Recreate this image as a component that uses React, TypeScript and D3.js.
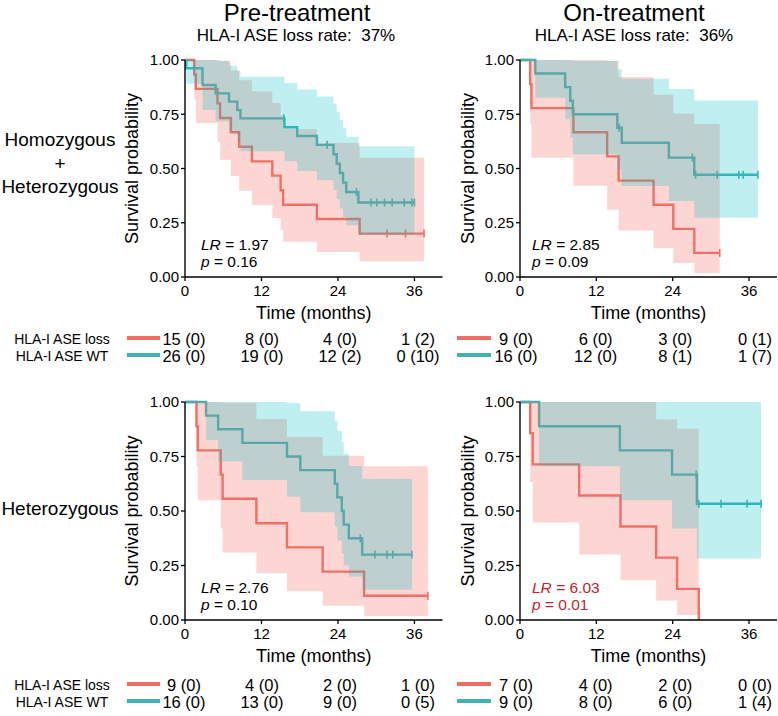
import React from 'react';
import * as d3 from 'd3';

const FONT = '"Liberation Sans", Arial, Helvetica, sans-serif';
const RED_LINE = '#EE6E62';
const TEAL_LINE = '#3FB2B7';
const RED_FILL = '#F8766D';
const TEAL_FILL = '#00BFC4';
const STAT_RED = '#C41E2A';

// ---------- shared ticks ----------
const xTicks = [0, 12, 24, 36];
const yTicks = [0, 0.25, 0.5, 0.75, 1];
const riskTimes = [0, 12, 24, 36];

// ---------- titles / labels ----------
const columnTitles = ['Pre-treatment', 'On-treatment'];
const columnSubtitles = ['HLA-I ASE loss rate:  37%', 'HLA-I ASE loss rate:  36%'];
const rowLabels = [['Homozygous', '+', 'Heterozygous'], ['Heterozygous']];
const groupLabels = ['HLA-I ASE loss', 'HLA-I ASE WT'];

// ---------- Panel A: Pre-treatment, Homozygous + Heterozygous ----------
const aLossT = [0, 1.45, 1.7, 5.1, 5.5, 7.2, 8.5, 10.5, 13.7, 15.0, 15.4, 20.7, 27.4];
const aLossS = [1, 0.933, 0.867, 0.8, 0.733, 0.667, 0.6, 0.533, 0.467, 0.4, 0.333, 0.267, 0.2];
const aLossLo = [1, 0.815, 0.71, 0.621, 0.54, 0.466, 0.397, 0.332, 0.272, 0.215, 0.163, 0.115, 0.073];
const aLossHi = [1, 1, 1, 1, 0.995, 0.953, 0.907, 0.856, 0.802, 0.744, 0.682, 0.617, 0.55];
const aLossCens = [31.7, 34.6, 37.5];
const aWtT = [0, 0.2, 2.75, 4.8, 6.9, 8.2, 8.7, 15.6, 17.6, 20.7, 23.3, 23.8, 24.3, 24.8, 25.3, 27.2];
const aWtS = [1, 0.962, 0.885, 0.846, 0.808, 0.769, 0.731, 0.69, 0.65, 0.609, 0.566, 0.522, 0.479, 0.435, 0.392, 0.343];
const aWtLo = [1, 0.891, 0.77, 0.718, 0.67, 0.623, 0.579, 0.533, 0.489, 0.446, 0.401, 0.358, 0.316, 0.276, 0.238, 0.195];
const aWtHi = [1, 1, 1, 0.997, 0.974, 0.949, 0.923, 0.894, 0.864, 0.832, 0.798, 0.762, 0.725, 0.686, 0.646, 0.603];
const aWtCens = [15.5, 22.3, 26.9, 29.2, 30.1, 31.3, 32.5, 34.4, 35.6, 36.0];
const aLossRisk = [15, 8, 4, 1];
const aLossRiskCens = [0, 0, 0, 2];
const aWtRisk = [26, 19, 12, 0];
const aWtRiskCens = [0, 0, 2, 10];
const aStats = ['1.97', '0.16'];

// ---------- Panel B: On-treatment, Homozygous + Heterozygous ----------
const bLossT = [0, 1.6, 1.8, 8.4, 13.7, 15.5, 21.0, 24.1, 27.4];
const bLossS = [1, 0.889, 0.778, 0.667, 0.556, 0.444, 0.333, 0.222, 0.111];
const bLossLo = [1, 0.705, 0.549, 0.42, 0.31, 0.214, 0.132, 0.065, 0.018];
const bLossHi = [1, 1, 1, 1, 0.997, 0.922, 0.84, 0.754, 0.705];
const bLossCens = [31.4];
const bWtT = [0, 2.4, 7.1, 7.9, 8.3, 15.3, 16.0, 23.4, 27.4];
const bWtS = [1, 0.9375, 0.875, 0.8125, 0.75, 0.6875, 0.619, 0.55, 0.471];
const bWtLo = [1, 0.826, 0.727, 0.642, 0.565, 0.494, 0.419, 0.35, 0.273];
const bWtHi = [1, 1, 1, 1, 0.995, 0.957, 0.914, 0.866, 0.813];
const bWtCens = [15.6, 27.1, 27.6, 31.0, 34.4, 35.1, 37.4];
const bLossRisk = [9, 6, 3, 0];
const bLossRiskCens = [0, 0, 0, 1];
const bWtRisk = [16, 12, 8, 1];
const bWtRiskCens = [0, 0, 1, 7];
const bStats = ['2.85', '0.09'];

// ---------- Panel C: Pre-treatment, Heterozygous ----------
const cLossT = [0, 1.8, 2.0, 5.6, 5.9, 11.2, 16.0, 21.6, 28.1];
const cLossS = [1, 0.889, 0.778, 0.667, 0.556, 0.444, 0.333, 0.222, 0.111];
const cLossLo = [1, 0.705, 0.549, 0.42, 0.31, 0.214, 0.132, 0.065, 0.018];
const cLossHi = [1, 1, 1, 1, 0.997, 0.922, 0.84, 0.754, 0.705];
const cLossCens = [38.1];
const cWtT = [0, 3.3, 5.2, 9.0, 16.0, 18.1, 23.5, 23.9, 24.6, 24.9, 25.7, 27.8];
const cWtS = [1, 0.9375, 0.875, 0.8125, 0.75, 0.6875, 0.625, 0.5625, 0.5, 0.4375, 0.375, 0.3];
const cWtLo = [1, 0.826, 0.727, 0.642, 0.565, 0.494, 0.428, 0.365, 0.306, 0.251, 0.199, 0.139];
const cWtHi = [1, 1, 1, 1, 0.995, 0.957, 0.914, 0.867, 0.816, 0.763, 0.706, 0.648];
const cWtCens = [27.5, 29.8, 31.7, 32.6, 35.6];
const cLossRisk = [9, 4, 2, 1];
const cLossRiskCens = [0, 0, 0, 0];
const cWtRisk = [16, 13, 9, 0];
const cWtRiskCens = [0, 0, 0, 5];
const cStats = ['2.76', '0.10'];

// ---------- Panel D: On-treatment, Heterozygous ----------
const dLossT = [0, 1.6, 2.0, 9.3, 15.8, 21.4, 24.7, 28.1];
const dLossS = [1, 0.857, 0.714, 0.571, 0.429, 0.286, 0.143, 0];
const dLossLo = [1, 0.633, 0.447, 0.301, 0.182, 0.089, 0.023, null];
const dLossHi = [1, 1, 1, 1, 1, 0.921, 0.877, null];
const dLossCens: number[] = [];
const dWtT = [0, 3.0, 15.7, 23.9, 27.8];
const dWtS = [1, 0.889, 0.778, 0.667, 0.533];
const dWtLo = [1, 0.705, 0.549, 0.42, 0.282];
const dWtHi = [1, 1, 1, 1, 1];
const dWtCens = [27.7, 28.1, 31.6, 35.7, 37.9];
const dLossRisk = [7, 4, 2, 0];
const dLossRiskCens = [0, 0, 0, 0];
const dWtRisk = [9, 8, 6, 1];
const dWtRiskCens = [0, 0, 0, 4];
const dStats = ['6.03', '0.01'];

type Group = { t: number[]; s: number[]; lo: (number | null)[]; hi: (number | null)[]; cens: number[] };

function curveEnd(g: Group) {
  return Math.max(g.t[g.t.length - 1], ...(g.cens.length ? g.cens : [0]));
}
function survAt(g: Group, tc: number) {
  let v = g.s[0];
  for (let i = 0; i < g.t.length; i++) if (g.t[i] <= tc) v = g.s[i];
  return v;
}

function GroupLine({ g, x, y, color }: any) {
  const end = curveEnd(g);
  const pts: [number, number][] = g.t.map((t: number, i: number) => [t, g.s[i]]);
  pts.push([end, g.s[g.s.length - 1]]);
  const line = d3.line<[number, number]>().x(d => x(d[0])).y(d => y(d[1])).curve(d3.curveStepAfter);
  return (
    <g>
      <path d={line(pts) || ''} fill="none" stroke={color} strokeWidth={2.4} />
      {g.cens.map((tc: number, i: number) => (
        <line key={i} x1={x(tc)} x2={x(tc)} y1={y(survAt(g, tc)) - 4} y2={y(survAt(g, tc)) + 4}
          stroke={color} strokeWidth={1.6} />
      ))}
    </g>
  );
}

function GroupBand({ g, x, y, fill, opacity }: any) {
  const end = curveEnd(g);
  const pts: { t: number; lo: number; hi: number }[] = [];
  let bandEnd = end;
  for (let i = 0; i < g.t.length; i++) {
    if (g.lo[i] == null) { bandEnd = g.t[i]; break; }
    pts.push({ t: g.t[i], lo: g.lo[i], hi: g.hi[i] });
  }
  const last = pts[pts.length - 1];
  pts.push({ t: bandEnd, lo: last.lo, hi: last.hi });
  const area = d3.area<{ t: number; lo: number; hi: number }>()
    .x(d => x(d.t)).y0(d => y(d.lo)).y1(d => y(d.hi)).curve(d3.curveStepAfter);
  return <path d={area(pts) || ''} fill={fill} fillOpacity={opacity} stroke="none" />;
}

function Panel({ x, y, loss, wt, stats, statColor, labelX, statX }: any) {
  const [x0, x1] = x.range();
  const [y0, y1] = y.range();
  return (
    <g>
      <GroupLine g={loss} x={x} y={y} color={RED_LINE} />
      <GroupLine g={wt} x={x} y={y} color={TEAL_LINE} />
      <GroupBand g={loss} x={x} y={y} fill={RED_FILL} opacity={0.3} />
      <GroupBand g={wt} x={x} y={y} fill={TEAL_FILL} opacity={0.25} />
      {/* axes */}
      <line x1={x0} x2={x0} y1={y0} y2={y1} stroke="#000" strokeWidth={1.4} />
      <line x1={x0} x2={x1} y1={y0} y2={y0} stroke="#000" strokeWidth={1.4} />
      {yTicks.map(v => (
        <g key={v}>
          <line x1={x0 - 4} x2={x0} y1={y(v)} y2={y(v)} stroke="#000" strokeWidth={1.3} />
          <text x={x0 - 6} y={y(v)} dy="0.36em" textAnchor="end" fontSize={15} fontFamily={FONT}>{v.toFixed(2)}</text>
        </g>
      ))}
      {xTicks.map(v => (
        <g key={v}>
          <line x1={x(v)} x2={x(v)} y1={y0} y2={y0 + 4} stroke="#000" strokeWidth={1.3} />
          <text x={x(v)} y={y0 + 19} textAnchor="middle" fontSize={15} fontFamily={FONT}>{v}</text>
        </g>
      ))}
      <text x={(x0 + x1) / 2} y={y0 + 42} textAnchor="middle" fontSize={18} fontFamily={FONT}>Time (months)</text>
      <text transform={`translate(${labelX},${(y0 + y1) / 2}) rotate(-90)`} textAnchor="middle" fontSize={18} fontFamily={FONT}>Survival probability</text>
      <text x={statX} y={y0 - 27} fontSize={15.5} fontFamily={FONT} fill={statColor}>
        <tspan fontStyle="italic">LR</tspan> = {stats[0]}
      </text>
      <text x={statX} y={y0 - 10} fontSize={15.5} fontFamily={FONT} fill={statColor}>
        <tspan fontStyle="italic">p</tspan> = {stats[1]}
      </text>
    </g>
  );
}

function RiskTable({ tx, lineX, baseY, lossRisk, lossCens, wtRisk, wtCens, showLabels }: any) {
  const rows = [
    { risk: lossRisk, cens: lossCens, color: RED_LINE, label: groupLabels[0] },
    { risk: wtRisk, cens: wtCens, color: TEAL_LINE, label: groupLabels[1] },
  ];
  return (
    <g>
      {rows.map((r, ri) => {
        const by = baseY + ri * 17;
        return (
          <g key={ri}>
            {showLabels && (
              <text x={62} y={by - 1} textAnchor="middle" fontSize={14} fontFamily={FONT}>{r.label}</text>
            )}
            <line x1={lineX[0]} x2={lineX[1]} y1={by - 7} y2={by - 7} stroke={r.color} strokeWidth={4} />
            {riskTimes.map((t, i) => (
              <text key={t} x={tx(t)} y={by} textAnchor="middle" fontSize={16.5} fontFamily={FONT}>
                {`${r.risk[i]} (${r.cens[i]})`}
              </text>
            ))}
          </g>
        );
      })}
    </g>
  );
}

export default function App() {
  const leftX = d3.scaleLinear().domain([0, 40.4]).range([185, 442.5]);
  const rightX = d3.scaleLinear().domain([0, 40.4]).range([520, 777]);
  const topY = d3.scaleLinear().domain([0, 1]).range([277, 60]);
  const botY = d3.scaleLinear().domain([0, 1]).range([620, 402]);
  const leftRisk = d3.scaleLinear().domain([0, 36]).range([184, 418]);
  const rightRisk = d3.scaleLinear().domain([0, 36]).range([516, 755]);

  const A: Group = { t: aLossT, s: aLossS, lo: aLossLo, hi: aLossHi, cens: aLossCens };
  const Aw: Group = { t: aWtT, s: aWtS, lo: aWtLo, hi: aWtHi, cens: aWtCens };
  const B: Group = { t: bLossT, s: bLossS, lo: bLossLo, hi: bLossHi, cens: bLossCens };
  const Bw: Group = { t: bWtT, s: bWtS, lo: bWtLo, hi: bWtHi, cens: bWtCens };
  const C: Group = { t: cLossT, s: cLossS, lo: cLossLo, hi: cLossHi, cens: cLossCens };
  const Cw: Group = { t: cWtT, s: cWtS, lo: cWtLo, hi: cWtHi, cens: cWtCens };
  const D: Group = { t: dLossT, s: dLossS, lo: dLossLo, hi: dLossHi, cens: dLossCens };
  const Dw: Group = { t: dWtT, s: dWtS, lo: dWtLo, hi: dWtHi, cens: dWtCens };

  return (
    <svg width={778} height={716} style={{ position: 'absolute', left: 0, top: 0, background: '#fff' }}
      fontFamily={FONT}>
      <rect width={778} height={716} fill="#fff" />
      {/* column titles */}
      <text x={297} y={21} textAnchor="middle" fontSize={24}>{columnTitles[0]}</text>
      <text x={634} y={21} textAnchor="middle" fontSize={24}>{columnTitles[1]}</text>
      <text x={296} y={41} textAnchor="middle" fontSize={17} style={{ whiteSpace: 'pre' }}>{columnSubtitles[0]}</text>
      <text x={634} y={41} textAnchor="middle" fontSize={17} style={{ whiteSpace: 'pre' }}>{columnSubtitles[1]}</text>
      {/* row labels */}
      {rowLabels[0].map((l, i) => (
        <text key={i} x={60} y={146 + i * 23.5} textAnchor="middle" fontSize={19}>{l}</text>
      ))}
      <text x={60} y={515} textAnchor="middle" fontSize={19}>{rowLabels[1][0]}</text>

      <Panel x={leftX} y={topY} loss={A} wt={Aw} stats={aStats} statColor="#000" labelX={138} statX={201} />
      <Panel x={rightX} y={topY} loss={B} wt={Bw} stats={bStats} statColor="#000" labelX={474} statX={532} />
      <Panel x={leftX} y={botY} loss={C} wt={Cw} stats={cStats} statColor="#000" labelX={138} statX={201} />
      <Panel x={rightX} y={botY} loss={D} wt={Dw} stats={dStats} statColor={STAT_RED} labelX={474} statX={532} />

      <RiskTable tx={leftRisk} lineX={[127, 160]} baseY={345} lossRisk={aLossRisk} lossCens={aLossRiskCens}
        wtRisk={aWtRisk} wtCens={aWtRiskCens} showLabels />
      <RiskTable tx={rightRisk} lineX={[457, 491]} baseY={345} lossRisk={bLossRisk} lossCens={bLossRiskCens}
        wtRisk={bWtRisk} wtCens={bWtRiskCens} showLabels={false} />
      <RiskTable tx={leftRisk} lineX={[127, 160]} baseY={691} lossRisk={cLossRisk} lossCens={cLossRiskCens}
        wtRisk={cWtRisk} wtCens={cWtRiskCens} showLabels />
      <RiskTable tx={rightRisk} lineX={[457, 491]} baseY={691} lossRisk={dLossRisk} lossCens={dLossRiskCens}
        wtRisk={dWtRisk} wtCens={dWtRiskCens} showLabels={false} />
    </svg>
  );
}
